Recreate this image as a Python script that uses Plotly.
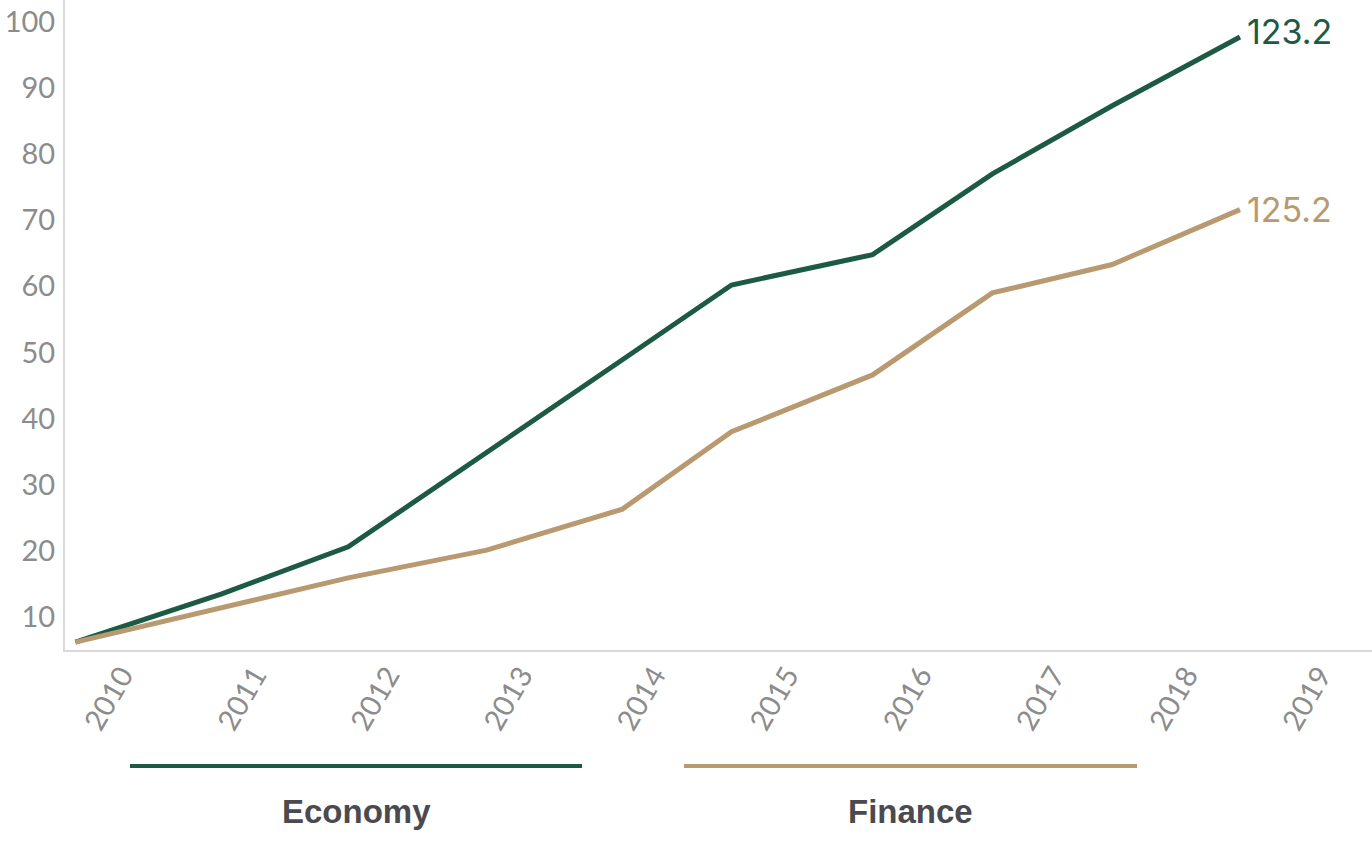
import plotly.graph_objects as go

# === DATA ===
years = [2010, 2011, 2012, 2013, 2014, 2015, 2016, 2017, 2018, 2019]
x_pos = [2009.65, 2010.75, 2011.70, 2012.74, 2013.76, 2014.58, 2015.64, 2016.54, 2017.44, 2018.40]
economy = [6.2, 13.5, 20.6, 35.0, 48.9, 60.2, 64.8, 77.0, 87.3, 97.7]
finance = [6.2, 11.4, 15.9, 20.1, 26.3, 38.0, 46.6, 59.0, 63.3, 71.6]
end_labels = ["123.2", "125.2"]
series_names = ["Economy", "Finance"]
y_ticks = [10, 20, 30, 40, 50, 60, 70, 80, 90, 100]

GREEN = "#1d5a43"
TAN = "#b99a70"
colors = [GREEN, TAN]

fig = go.Figure()
for name, ys, col in zip(series_names, [economy, finance], colors):
    fig.add_trace(go.Scatter(
        x=x_pos, y=ys, mode="lines", name=name,
        line=dict(color=col, width=5),
        showlegend=False, hoverinfo="skip",
    ))

# value labels at the line ends
for ys, lab, col, ysh in zip([economy, finance], end_labels, colors, [6, 0]):
    fig.add_annotation(
        x=x_pos[-1], y=ys[-1], text=lab, showarrow=False,
        xanchor="left", yanchor="middle", xshift=5, yshift=ysh,
        font=dict(family="Inter", size=34, color=col),
    )

# custom legend underneath
legend_spans = [(0.0497, 0.3956), (0.4736, 0.8202)]
for (x0, x1), name, col in zip(legend_spans, series_names, colors):
    fig.add_shape(type="line", xref="paper", yref="paper",
                  x0=x0, x1=x1, y0=-0.1785, y1=-0.1785,
                  line=dict(color=col, width=4))
    fig.add_annotation(
        xref="paper", yref="paper", x=(x0 + x1) / 2, y=-0.2477,
        text="<b>" + name + "</b>", showarrow=False,
        xanchor="center", yanchor="middle",
        font=dict(family="Liberation Sans", size=33, color="#4a4a4f"),
    )

fig.update_layout(
    width=1372, height=844,
    margin=dict(l=65, r=0, t=0, b=194),
    plot_bgcolor="white", paper_bgcolor="white",
    xaxis=dict(
        range=[2009.572, 2019.392], automargin=False,
        tickvals=years, ticktext=[str(y) for y in years],
        tickangle=-60, showgrid=False, zeroline=False,
        showline=True, linecolor="#d9d9d9", linewidth=2,
        ticks="", ticklabelstandoff=-5,
        tickfont=dict(family="Lato", size=29, color="#8c8c8c"),
    ),
    yaxis=dict(
        range=[5, 103.3], tickvals=y_ticks, automargin=False,
        showgrid=False, zeroline=False,
        showline=True, linecolor="#d9d9d9", linewidth=2,
        ticks="", ticklabelstandoff=2, ticklabeloverflow="allow",
        tickfont=dict(family="Lato", size=29, color="#8c8c8c"),
    ),
)

# drop the default 8px body margin so the figure fills the window exactly
fig.write_html("out.html", config={"displayModeBar": False},
               post_script="document.body.style.margin='0px';")
